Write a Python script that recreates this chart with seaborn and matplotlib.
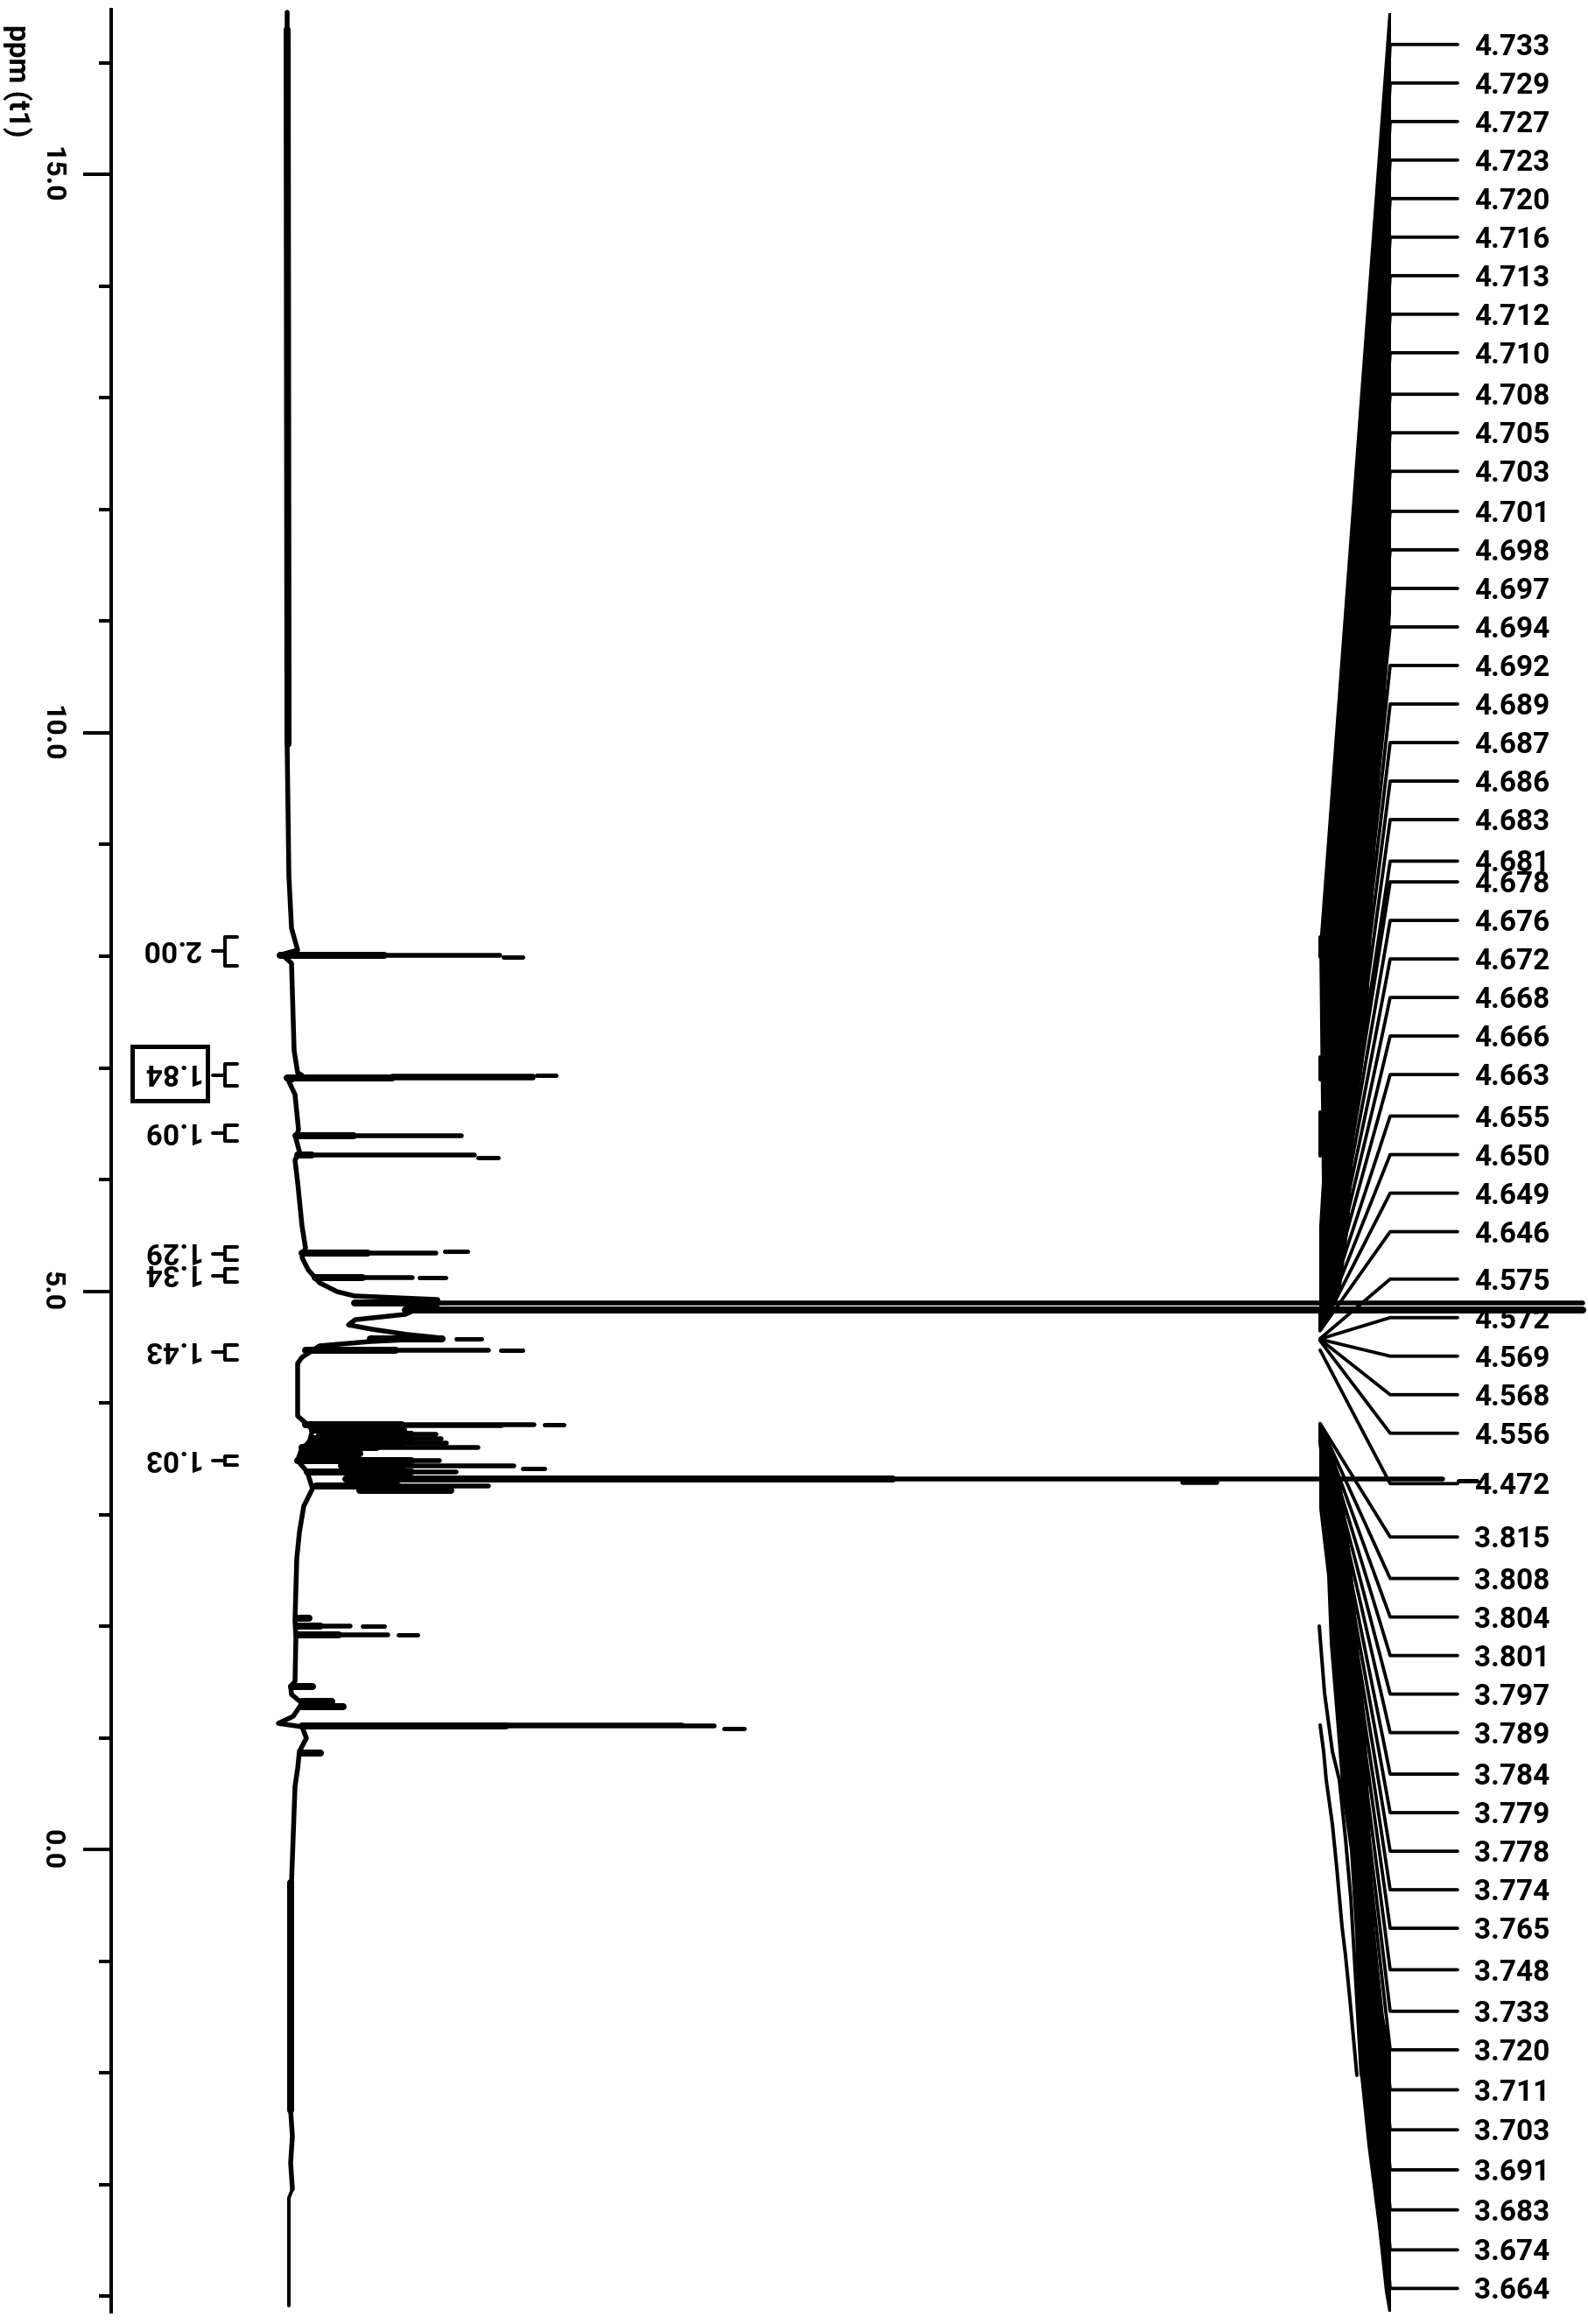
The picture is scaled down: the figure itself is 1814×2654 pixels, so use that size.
import numpy as np
import pandas as pd
import matplotlib
matplotlib.use("Agg")
import matplotlib.pyplot as plt
from matplotlib.patches import Rectangle
import seaborn as sns

# ---------- data ----------
trace_ppm = [16.455, 9.898, 8.722, 8.251, 8.055, 8.016, 7.937, 7.153, 6.957, 6.933, 6.878, 6.761, 6.447, 6.369,
             6.251, 6.173, 5.976, 5.584, 5.388, 5.302, 5.192, 5.075, 4.996, 4.957, 4.925, 4.792, 4.745, 4.698,
             4.659, 4.612, 4.580, 4.549, 4.510, 4.408, 4.353, 3.882, 3.820, 3.757, 3.639, 3.600, 3.482, 3.380,
             3.231, 3.075, 2.839, 2.604, 2.055, 1.898, 1.506, 1.459, 1.388, 1.310, 1.192, 1.129, 1.098, 0.996,
             0.878, 0.722, 0.565, -0.298, -2.337, -2.573, -2.808, -3.043]
trace_int = [328, 328, 330, 333, 340, 322, 333, 336, 340, 345, 330, 337, 341, 338,
             342, 337, 340, 345, 349, 345, 352, 365, 385, 405, 500, 463, 406, 398,
             425, 465, 505, 423, 365, 345, 340, 340, 349, 357, 353, 345, 340, 351,
             357, 347, 342, 339, 337, 338, 337, 332, 333, 345, 335, 318, 345, 350,
             342, 340, 337, 333, 332, 334, 332, 334]
tail_ppm = [-3.043, -3.122, -4.086]
tail_int = [334, 330, 330]
broad_ppm = [[16.3, 9.9], [-0.3, -2.34]]
broad_int = [[328, 329], [332, 332]]

peak_ppm = [8.008, 6.912, 6.392, 6.220, 5.341, 5.122, 4.894, 4.831,
            4.573, 4.471, 3.804, 3.757, 3.718, 3.678, 3.639, 3.600, 3.545, 3.482, 3.435,
            3.380, 3.318, 3.255, 3.216, 2.071, 2.000, 1.922, 1.459, 1.325, 1.278, 1.106, 0.863]
peak_root = [320, 328, 338, 340, 345, 360, 405, 463,
             423, 349, 349, 357, 365, 357, 353, 345, 345, 340, 390,
             351, 395, 361, 411, 340, 340, 340, 333, 345, 345, 345, 345]
peak_body = [439, 448, 404, 356, 420, 414, 500, 1808,
             505, 452, 459, 461, 470, 470, 460, 430, 411, 470, 460,
             470, 1020, 455, 515, 353, 366, 387, 357, 379, 392, 578, 366]
peak_tip = [571, 609, 527, 542, 498, 471, 1808, 1808,
            505, 558, 610, 461, 498, 504, 510, 546, 411, 502, 587,
            521, 1648, 558, 515, 353, 400, 443, 357, 379, 392, 816, 366]
dash_ppm = [7.990, 6.935, 6.195, 5.360, 5.122, 4.573, 4.471, 3.804, 3.412, 3.300, 2.000, 1.922, 1.082]
dash_from = [575, 613, 546, 508, 479, 521, 572, 622, 597, 1666, 414, 455, 827]
dash_to = [597, 635, 569, 534, 509, 550, 597, 644, 622, 1687, 439, 477, 850]

shoulder_ppm = [6.925, 3.800, 1.115, 3.290]
shoulder_from = [448, 459, 578, 1351]
shoulder_to = [609, 573, 779, 1390]

integral_value = ["2.00", "1.84", "1.09", "1.29", "1.34", "1.43", "1.03"]
integral_hi = [8.173, 7.035, 6.486, 5.396, 5.200, 4.518, 3.522]
integral_lo = [7.914, 6.839, 6.345, 5.278, 5.082, 4.384, 3.443]

peak_label = [4.733, 4.729, 4.727, 4.723, 4.720, 4.716, 4.713, 4.712, 4.710, 4.708, 4.705, 4.703, 4.701,
              4.698, 4.697, 4.694, 4.692, 4.689, 4.687, 4.686, 4.683, 4.681, 4.678, 4.676, 4.672, 4.668,
              4.666, 4.663, 4.655, 4.650, 4.649, 4.646, 4.575, 4.572, 4.569, 4.568, 4.556, 4.472, 3.815,
              3.808, 3.804, 3.801, 3.797, 3.789, 3.784, 3.779, 3.778, 3.774, 3.765, 3.748, 3.733, 3.720,
              3.711, 3.703, 3.691, 3.683, 3.674, 3.664]

# crowded multiplet marks, read as outlines
upper_band_x = [1586, 1507, 1510, 1507, 1507, 1511, 1531, 1541, 1548, 1557, 1563, 1572, 1589, 1589]
upper_band_ppm = [16.447, 8.094, 5.976, 5.584, 4.627, 4.667, 4.980, 5.584, 6.502, 7.020, 7.545, 9.114, 11.075, 16.447]
lower_band_x = [1507, 1507, 1516, 1519, 1525, 1533, 1542, 1548, 1553, 1562, 1574, 1582, 1586,
                1589, 1589, 1580, 1570, 1563, 1560, 1552, 1547, 1542, 1533, 1523]
lower_band_ppm = [3.835, 3.051, 2.447, 1.843, 1.271, 0.486, -0.008, -0.745, -1.969, -2.651, -3.380, -3.961, -4.141,
                  -4.141, -1.788, -1.475, -0.690, 0.620, 1.137, 1.796, 2.314, 2.706, 3.231, 3.569]
stray_x = [[1507, 1513, 1522, 1530, 1537, 1543, 1548, 1555],
           [1508, 1512, 1515, 1522, 1527, 1533, 1537, 1542, 1550]]
stray_ppm = [[2.000, 1.404, 0.878, 0.620, 0.094, -0.431, -1.082, -2.024],
             [1.114, 0.878, 0.620, 0.227, -0.165, -0.690, -0.949, -1.341, -2.024]]
stub_x = 1508
stub_ppm = [[8.173, 7.992], [7.098, 6.894], [6.604, 6.212]]

# ---------- layout (pixel rows of the figure) ----------
W, H = 1814, 2654
PX = 72 / 100
PPM0_ROW, ROW_PER_PPM = 2112, 127.5
TEXT_NUDGE = 0.024
slot_rows = np.array([30, 56, 82, 108, 134, 160, 186, 212, 238, 266, 292, 318, 345, 371, 397, 423, 449, 475, 501,
                      527, 553, 581, 595, 621, 647, 673, 699, 725, 753, 779, 805, 831, 863, 889, 915, 941, 967,
                      1001, 1037, 1065, 1091, 1117, 1143, 1169, 1197, 1223, 1249, 1275, 1301, 1329, 1357, 1383,
                      1410, 1437, 1464, 1491, 1518, 1544]) * H / 1568
slot_ppm = (PPM0_ROW - slot_rows) / ROW_PER_PPM


def segs(rows):
    out = []
    for u, (xs, ys) in enumerate(rows):
        for x, y in zip(xs, ys):
            out.append((u, x, y))
    return pd.DataFrame(out, columns=["unit", "intensity", "ppm"])


def draw(rows, width_px, cap="round", zorder=3):
    sns.lineplot(data=segs(rows), x="intensity", y="ppm", units="unit", estimator=None, sort=False,
                 color="black", lw=width_px * PX, solid_capstyle=cap, legend=False, ax=ax, zorder=zorder)


sns.set_theme(style="white")
plt.rcParams["font.family"] = ["Roboto", "Liberation Sans", "DejaVu Sans"]
fig = plt.figure(figsize=(W / 100, H / 100), dpi=100, facecolor="white")
ax = fig.add_axes([127 / W, 1 - 2640 / H, (W - 127) / W, 2629 / H])
ax.set_facecolor("white")

# multiplet label bands
ax.fill(upper_band_x, upper_band_ppm, color="black", lw=0, zorder=2)
ax.fill(lower_band_x, lower_band_ppm, color="black", lw=0, zorder=2)
draw(list(zip(stray_x, stray_ppm)), 4)
draw([([stub_x, stub_x], s) for s in stub_ppm], 4)
draw([([1665, 1588, 1508], [s, s, p]) for s, p in zip(slot_ppm, peak_label)], 3.8)

# spectrum
draw([(trace_int, trace_ppm)], 5.5)
draw([(tail_int, tail_ppm)], 4)
draw(list(zip(broad_int, broad_ppm)), 8)
draw([([r, t], [p, p]) for p, r, t in zip(peak_ppm, peak_root, peak_tip)], 5.5, zorder=5)
draw([([r, b], [p, p]) for p, r, b in zip(peak_ppm, peak_root, peak_body)], 8, zorder=5)
draw([([a, b], [p, p]) for p, a, b in zip(dash_ppm, dash_from, dash_to)], 5, zorder=5)
draw([([a, b], [p, p]) for p, a, b in zip(shoulder_ppm, shoulder_from, shoulder_to)], 5.5, zorder=5)

# integrals
for val, hi, lo in zip(integral_value, integral_hi, integral_lo):
    mid = (hi + lo) / 2
    draw([([271, 257, 257, 271], [hi, hi, lo, lo]), ([243, 257], [mid, mid])], 4)
    ax.text(195, mid + TEXT_NUDGE, val, rotation=180, ha="center", va="center", fontsize=24, fontweight="bold",
            color="black")
ax.add_patch(Rectangle((151, 6.705), 86, 0.49, fill=False, edgecolor="black", lw=5 * PX, zorder=3))

# peak labels
for val, s in zip(peak_label, slot_ppm):
    ax.text(1684, s - TEXT_NUDGE, f"{val:.3f}", ha="left", va="center", fontsize=24, fontweight="bold",
            color="black", zorder=1)

# axis
ax.set_xlim(127, W)
ax.set_ylim((PPM0_ROW - 2640) / ROW_PER_PPM, (PPM0_ROW - 11) / ROW_PER_PPM)
ax.set_xticks([])
ax.set_xlabel("")
ax.set_yticks([15, 10, 5, 0], ["15.0", "10.0", "5.0", "0.0"])
ax.set_yticks(np.arange(-4, 17), minor=True)
ax.tick_params(axis="y", which="major", length=32 * PX, width=4 * PX, color="black", pad=15, left=True)
ax.tick_params(axis="y", which="minor", length=14 * PX, width=4 * PX, color="black", left=True)
for lab in ax.get_yticklabels():
    lab.set(rotation=270, va="center", fontsize=23, fontweight="bold", color="black")
ax.set_ylabel("ppm (t1)", rotation=270, fontsize=24, fontweight="bold", color="black", ha="center", va="center")
ax.yaxis.set_label_coords((20 - 127) / (W - 127), 1 - (92 - 11) / 2629)
for side in ("top", "right", "bottom"):
    ax.spines[side].set_visible(False)
ax.spines["left"].set(linewidth=4 * PX, color="black")

fig.savefig("out.png", dpi=100, facecolor="white")
